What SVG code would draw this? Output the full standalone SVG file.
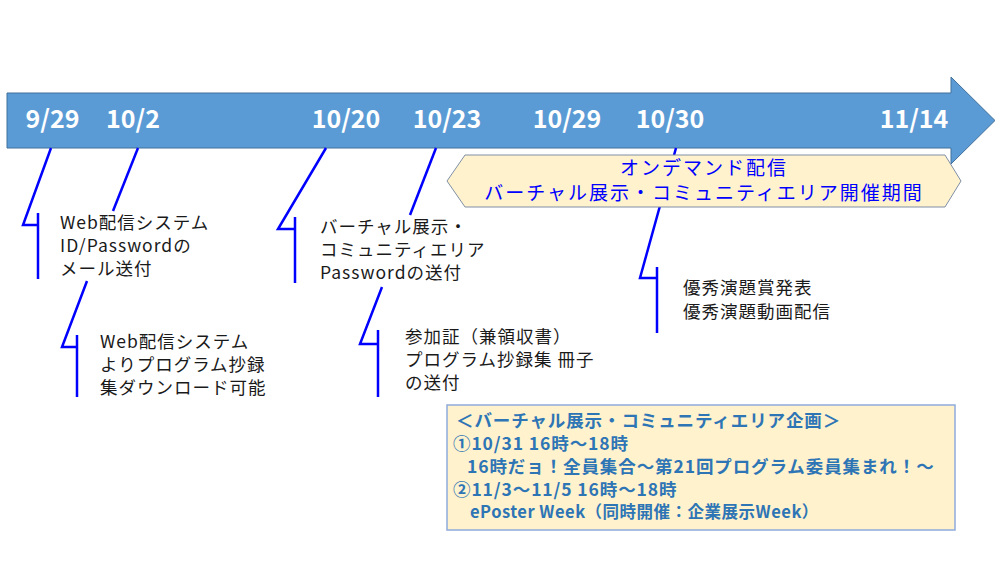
<svg xmlns="http://www.w3.org/2000/svg" width="1000" height="563" viewBox="0 0 1000 563">
<style>
.date{font-family:"Noto Sans CJK JP","Noto Sans",sans-serif;font-size:25px;font-weight:bold;fill:#ffffff;text-anchor:middle}
.note{font-family:"Noto Sans CJK JP",sans-serif;font-size:17.5px;fill:#1a1a1a;letter-spacing:1px}
.lead{fill:none;stroke:#0000ff;stroke-width:2.5}
.hex{font-family:"Noto Sans CJK JP",sans-serif;font-size:19px;fill:#0000ff;text-anchor:middle;letter-spacing:2px}
.plan{font-family:"Noto Sans CJK JP",sans-serif;font-size:17.5px;font-weight:bold;fill:#2e75b6;letter-spacing:0.9px}
</style>
<rect width="1000" height="563" fill="#ffffff"/>
<g id="timeline">
<path d="M7,93 H951 V77 L995,120.5 L951,164 V148 H7 Z" fill="#5b9bd5" stroke="#41719c" stroke-width="1"/>
<text class="date" x="52.5" y="128">9/29</text>
<text class="date" x="133" y="128">10/2</text>
<text class="date" x="346" y="128">10/20</text>
<text class="date" x="447" y="128">10/23</text>
<text class="date" x="567" y="128">10/29</text>
<text class="date" x="670" y="128">10/30</text>
<text class="date" x="914" y="128">11/14</text>
</g>
<g id="connectors">
<path class="lead" d="M51,148 L23,225 H38"/>
<path class="lead" d="M38,213 V279"/>
<path class="lead" d="M138,148 L113,211"/>
<path class="lead" d="M87,281 L62,347 H77"/>
<path class="lead" d="M77,335 V397"/>
<path class="lead" d="M326,148 L278,229 H295"/>
<path class="lead" d="M295,217 V283"/>
<path class="lead" d="M436,148 L410,215"/>
<path class="lead" d="M382,287 L360,344 H378"/>
<path class="lead" d="M378,330 V397"/>
<path class="lead" d="M676,148 L640,278 H657"/>
<path class="lead" d="M657,267 V333"/>
</g>
<g id="note-0929">
<text class="note" x="60" y="229">Web配信システム</text>
<text class="note" x="60" y="252">ID/Passwordの</text>
<text class="note" x="60" y="275">メール送付</text>
</g>
<g id="note-1002">
<text class="note" x="100" y="348">Web配信システム</text>
<text class="note" x="100" y="371">よりプログラム抄録</text>
<text class="note" x="100" y="394">集ダウンロード可能</text>
</g>
<g id="note-1020">
<text class="note" x="320" y="233">バーチャル展示・</text>
<text class="note" x="320" y="256">コミュニティエリア</text>
<text class="note" x="320" y="279">Passwordの送付</text>
</g>
<g id="note-1023">
<text class="note" x="405" y="343">参加証（兼領収書）</text>
<text class="note" x="405" y="366">プログラム抄録集 冊子</text>
<text class="note" x="405" y="389">の送付</text>
</g>
<g id="period">
<polygon points="447,181 465,155 945,155 961,181 945,207 465,207" fill="#fff2cc" stroke="#7f8fa6" stroke-width="1"/>
<text class="hex" x="704" y="175">オンデマンド配信</text>
<text class="hex" x="704" y="200">バーチャル展示・コミュニティエリア開催期間</text>
</g>
<g id="note-1030">
<text class="note" x="683" y="294">優秀演題賞発表</text>
<text class="note" x="683" y="318">優秀演題動画配信</text>
</g>
<g id="plan">
<rect x="447" y="405" width="508" height="125" fill="#fff2cc" stroke="#8faadc" stroke-width="1.5"/>
<text class="plan" x="456" y="427">＜バーチャル展示・コミュニティエリア企画＞</text>
<text class="plan" x="453" y="450">①10/31 16時～18時</text>
<text class="plan" x="467" y="473">16時だョ！全員集合～第21回プログラム委員集まれ！～</text>
<text class="plan" x="453" y="496">②11/3～11/5 16時～18時</text>
<text class="plan" x="470" y="518" style="font-size:16.5px;letter-spacing:0.5px">ePoster Week（同時開催：企業展示Week）</text>
</g>
</svg>
